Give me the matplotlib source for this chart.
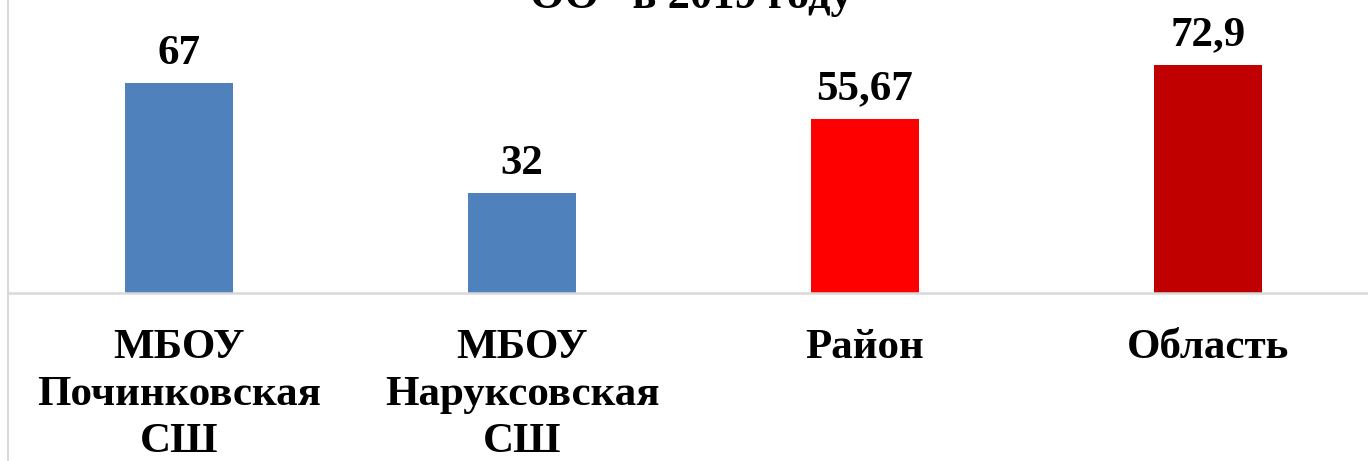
import matplotlib
matplotlib.use("Agg")
import matplotlib.pyplot as plt
from matplotlib.lines import Line2D

# data
categories = ["МБОУ\nПочинковская\nСШ", "МБОУ\nНаруксовская\nСШ", "Район", "Область"]
values = [67, 32, 55.67, 72.9]
value_labels = ["67", "32", "55,67", "72,9"]
colors = ["#4f81bd", "#4f81bd", "#ff0000", "#c00000"]

plt.rcParams['font.family'] = ['Liberation Serif', 'DejaVu Serif']

fig = plt.figure(figsize=(13.68, 4.61), dpi=100)
W, H = 1368, 461
# axes: baseline at y=293px, category width 343px starting at x=7.5px
ax = fig.add_axes([7.5 / W, (H - 293) / H, 1372 / W, 293 / H])

x = range(len(categories))
ax.bar(x, values, width=0.315, color=colors)
for i, v in enumerate(values):
    ax.text(i, v + 3.2, value_labels[i], ha='center', va='bottom',
            fontsize=31, fontweight='bold')

ax.set_xlim(-0.5, 3.5)
ax.set_ylim(0, 93.5)
ax.set_yticks([])
ax.set_xticks(list(x))
ax.set_xticklabels(categories, fontsize=31, fontweight='bold', linespacing=1.3)
ax.tick_params(axis='x', length=0, pad=26)
for s in ['top', 'right', 'left']:
    ax.spines[s].set_visible(False)
ax.spines['bottom'].set_color('#d9d9d9')
ax.spines['bottom'].set_linewidth(1.8)

# chart border on the left
fig.add_artist(Line2D([8 / W, 8 / W], [0, 1], color='#d9d9d9', linewidth=1.5,
                      transform=fig.transFigure))

# title, only the last line is visible
fig.text(691 / W, 1 - 8 / H, "ОО   в 2019 году", ha='center', va='baseline',
         fontsize=32, fontweight='bold')

fig.savefig("out.png", dpi=100)
